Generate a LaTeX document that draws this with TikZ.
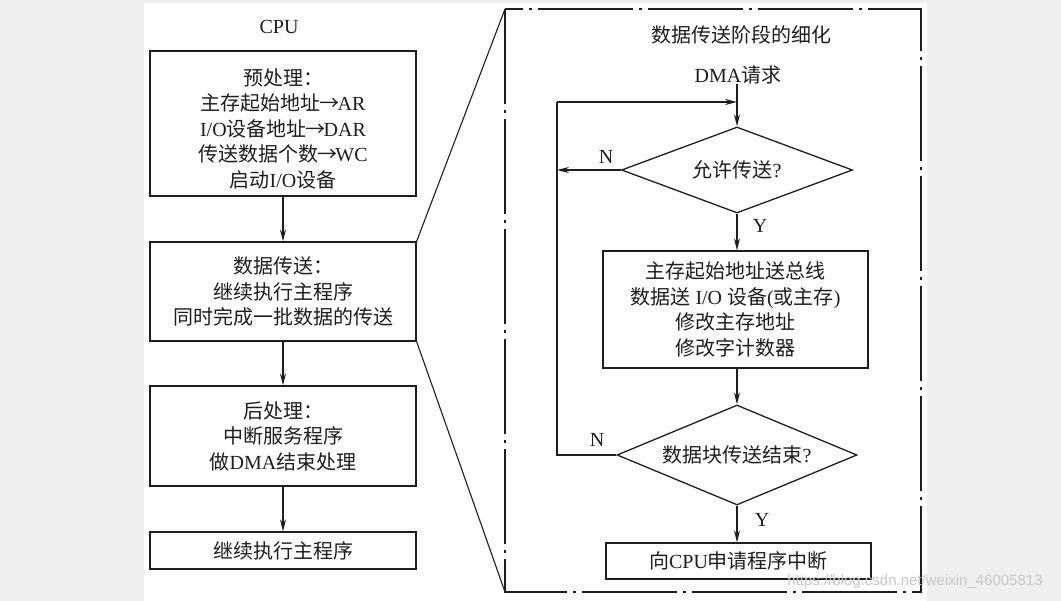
\documentclass[tikz,border=0pt]{standalone}
\usepackage{fontspec}
\setmainfont{Liberation Serif}
\newfontfamily\cjk{Noto Sans CJK SC}
\usetikzlibrary{shapes.geometric,arrows.meta}
\newcommand\zh[1]{{\cjk #1}}
\newcommand\ra{{\cjk\hspace{-1pt}→\hspace{-2pt}}}
\definecolor{bggray}{RGB}{240,240,240}
\definecolor{ink}{RGB}{30,30,30}
\begin{document}
\begin{tikzpicture}[x=1pt,y=-1pt,
  txt/.style={font=\fontsize{20}{25.5}\selectfont, text=ink, align=center, inner sep=0},
  box/.style={txt, draw=ink, line width=1.3pt, rectangle},
  dia/.style={txt, draw=ink, line width=1.3pt, diamond, inner sep=0},
  lnk/.style={draw=ink, line width=1.3pt},
  arr/.style={lnk, -{Stealth[length=12pt,width=6pt]}},
  frame/.style={draw=ink, line width=1.4pt, dash pattern=on 95pt off 6pt on 3pt off 6pt},
  lbl/.style={font=\fontsize{20}{24}\selectfont, text=ink, inner sep=0}]
\useasboundingbox (0,0) rectangle (1061,601);
\fill[bggray] (0,0) rectangle (1061,601);
\fill[white] (144,3) rectangle (927,601);

% left column
\node[lbl] (cpu) at (279,27) {CPU};
\node[box, minimum width=266, minimum height=145] (b1) at (283,123.5)
  {\rule{0pt}{27pt}\zh{预处理：}\\\zh{主存起始地址}\ra AR\\I/O\zh{设备地址}\ra DAR\\\zh{传送数据个数}\ra WC\\\zh{启动}I/O\zh{设备}};
\node[box, minimum width=266, minimum height=99] (b2) at (283,291.5)
  {\zh{数据传送：}\\\zh{继续执行主程序}\\\zh{同时完成一批数据的传送}};
\node[box, minimum width=266, minimum height=100] (b3) at (283,436)
  {\zh{后处理：}\\\zh{中断服务程序}\\\zh{做}DMA\zh{结束处理}};
\node[box, minimum width=266, minimum height=37] (b4) at (283,550.5)
  {\zh{继续执行主程序}};
\draw[arr] (b1.south) -- (b2.north);
\draw[arr] (b2.south) -- (b3.north);
\draw[arr] (b3.south) -- (b4.north);

% zoom frame
\coordinate (ftl) at (505,9);
\coordinate (fbr) at (921,592);
\coordinate (fbl) at (505,592);
\draw[frame] (ftl) rectangle (fbr);
\draw[lnk, line width=1.1pt] (b2.north east) -- (ftl);
\draw[lnk, line width=1.1pt] (b2.south east) -- (fbl);

% right flow
\node[lbl] (title) at (741,35) {\zh{数据传送阶段的细化}};
\node[lbl, anchor=south] (dma) at (738,84) {DMA\zh{请求}};
\node[dia, aspect=2.7, minimum width=231, minimum height=86] (d1) at (737,170) {\zh{允许传送}?};
\node[box, minimum width=265, minimum height=117] (b5) at (735.5,309.5)
  {\zh{主存起始地址送总线}\\\zh{数据送} I/O \zh{设备}(\zh{或主存})\\\zh{修改主存地址}\\\zh{修改字计数器}};
\node[dia, aspect=2.4, minimum width=240, minimum height=100] (d2) at (737,455) {\zh{数据块传送结束}?};
\node[box, minimum width=265, minimum height=36] (b6) at (738.5,561) {\zh{向}CPU\zh{申请程序中断}};

\coordinate (lt) at (557,102);
\coordinate (lb) at (557,455);
\draw[arr] (dma.south -| d1.north) -- (d1.north);
\draw[arr] (d1.west) -- (d1.west -| lt);
\draw[arr] (d1.south) -- (d1.south |- b5.north);
\draw[arr] (d1.south |- b5.south) -- (d2.north);
\draw[lnk] (d2.west) -- (lb) -- (lt);
\draw[arr] (lt) -- (lt -| d1.north);
\draw[arr] (d2.south) -- (d2.south |- b6.north);

\node[lbl] (n1) at (606,157) {N};
\node[lbl] (n2) at (597,440) {N};
\node[lbl] (y1) at (760,226) {Y};
\node[lbl] (y2) at (762,520) {Y};

\node[font=\fontsize{15}{18}\selectfont\fontspec{Liberation Sans}, text=black!22, inner sep=0] (wm) at (915,582) {https://blog.csdn.net/weixin\_46005813};
\end{tikzpicture}
\end{document}
